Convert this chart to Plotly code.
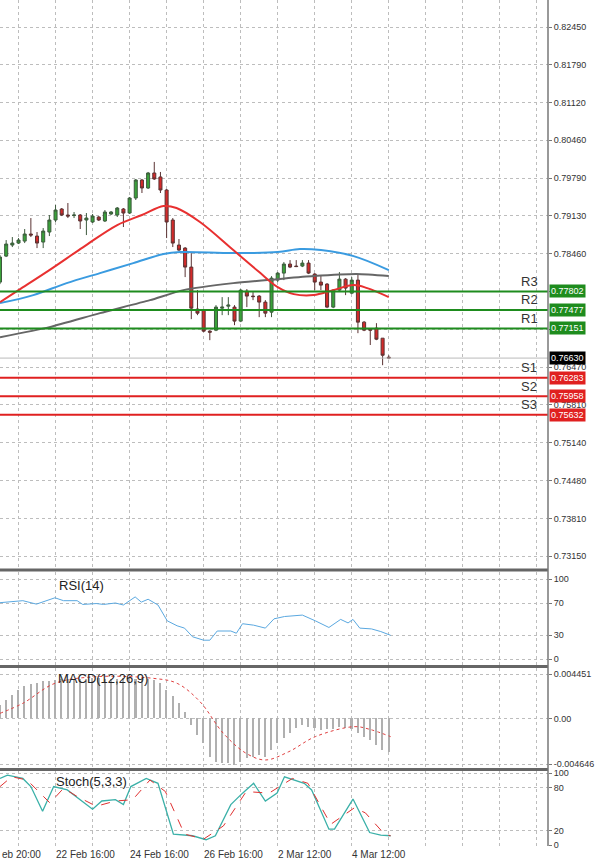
import plotly.graph_objects as go

# ---------------- data ----------------
opens  = [0.77966,0.78423,0.78617,0.78652,0.78687,0.78811,0.78775,0.78670,0.78846,0.79057,
          0.79251,0.79145,0.79136,0.79145,0.79057,0.79022,0.79110,0.79040,0.79163,0.79145,
          0.79251,0.79180,0.79444,0.79761,0.79620,0.79884,0.79814,0.79585,0.79057,0.78617,
          0.78564,0.78230,0.77491,0.77473,0.77104,0.77121,0.77508,0.77543,0.77526,0.77280,
          0.77807,0.77720,0.77720,0.77614,0.77438,0.78001,0.78124,0.78283,0.78248,0.78248,
          0.78300,0.78107,0.77966,0.77931,0.77526,0.77825,0.78018,0.77772,0.78001,0.77262,
          0.77139,0.77156,0.76980,0.76645]
highs  = [0.78441,0.78705,0.78758,0.78740,0.78899,0.79092,0.78846,0.78916,0.79145,0.79321,
          0.79268,0.79356,0.79198,0.79163,0.79180,0.79163,0.79127,0.79233,0.79215,0.79286,
          0.79268,0.79462,0.79779,0.79779,0.79902,0.80078,0.79902,0.79603,0.79092,0.78723,
          0.78582,0.78476,0.77825,0.77491,0.77121,0.77561,0.77702,0.77702,0.77561,0.77843,
          0.77843,0.77790,0.77737,0.77649,0.78071,0.78142,0.78318,0.78353,0.78353,0.78353,
          0.78353,0.78124,0.78089,0.77948,0.77843,0.78142,0.78036,0.78054,0.78107,0.77280,
          0.77156,0.77244,0.76980,0.76680]
lows   = [0.77931,0.78406,0.78582,0.78635,0.78652,0.78758,0.78564,0.78564,0.78775,0.79022,
          0.79127,0.79092,0.79092,0.78899,0.78793,0.79004,0.79040,0.79022,0.79145,0.79110,
          0.78934,0.79163,0.79409,0.79532,0.79603,0.79761,0.79532,0.78740,0.78582,0.78511,
          0.78054,0.77315,0.77385,0.77086,0.76945,0.77104,0.77385,0.77385,0.77209,0.77262,
          0.77526,0.77649,0.77350,0.77350,0.77350,0.77966,0.78001,0.78212,0.78230,0.78230,
          0.78107,0.77825,0.77825,0.77508,0.77508,0.77807,0.77737,0.77754,0.77068,0.77104,
          0.76860,0.76945,0.76505,0.76610]
closes = [0.78406,0.78635,0.78652,0.78705,0.78811,0.78793,0.78652,0.78863,0.79057,0.79233,
          0.79145,0.79127,0.79145,0.79040,0.79092,0.79127,0.79057,0.79198,0.79198,0.79268,
          0.79180,0.79444,0.79761,0.79620,0.79884,0.79779,0.79585,0.79022,0.78652,0.78529,
          0.78230,0.77508,0.77420,0.77104,0.77086,0.77526,0.77526,0.77561,0.77280,0.77825,
          0.77720,0.77711,0.77614,0.77420,0.78036,0.78124,0.78283,0.78230,0.78239,0.78300,
          0.78124,0.77966,0.77913,0.77526,0.77825,0.78018,0.77860,0.78001,0.77262,0.77121,
          0.77121,0.76962,0.76680,0.76630]

ma_red_x = [0,3,8,13.5,19,23,26.5,28.6,32.4,37.8,42,45,47.6,50.8,54,57.3,59.5,63]
ma_red_y = [0.77614,0.77825,0.78177,0.78582,0.78969,0.79145,0.79303,0.79268,0.79022,0.78529,
            0.78142,0.77878,0.77755,0.77737,0.77825,0.77913,0.77860,0.77702]
ma_blue_x = [0,5.4,10.8,16.2,21.6,26.5,29.2,37.8,45,48.6,52,57.3,63]
ma_blue_y = [0.77596,0.77737,0.77948,0.78124,0.78300,0.78459,0.78494,0.78476,0.78494,0.78547,
             0.78529,0.78423,0.78177]
ma_gray_x = [0,8,16.2,24.3,29.7,37.8,45,50.8,57.8,63]
ma_gray_y = [0.76998,0.77174,0.77420,0.77649,0.77825,0.77948,0.78018,0.78071,0.78107,0.78071]

res_names = ["R3","R2","R1"]
res_levels = [0.77802,0.77477,0.77151]
sup_names = ["S1","S2","S3"]
sup_levels = [0.76283,0.75958,0.75632]
last_price = 0.76630

price_ticks = [0.82450,0.81790,0.81120,0.80460,0.79790,0.79130,0.78460,0.77800,0.77140,
               0.76470,0.75810,0.75140,0.74480,0.73810,0.73150]
price_ticktext = ["0.82450","0.81790","0.81120","0.80460","0.79790","0.79130","0.78460","","",
                  "0.76470","0.75810","0.75140","0.74480","0.73810","0.73150"]

rsi_x = [0,3.7,5.9,8.9,10.3,12.5,13.4,15.6,16.8,18.7,20,21.9,22.9,24,25.6,27.1,28.7,29.9,31.2,
         33,34,35.2,37.4,38.3,39.3,41.1,43,44.4,46.1,49,51.1,53.3,55.2,56.4,57.2,58.3,60.2,61.7,63.3]
rsi_y = [70.4,72.9,68.6,76.5,72.9,72.9,68.2,69.3,68.2,70,67.5,77.6,71.1,74.7,67.5,47.7,41.5,38.6,
         27.8,23.5,23.5,35,35,32.2,44.1,42.3,38.6,50.2,53.1,54.9,47.7,39.4,49.5,45.1,49.5,38.6,
         37.6,34.3,29.6]

macd_hist = [0.00135,0.00185,0.00236,0.00286,0.00327,0.00347,0.00361,0.00374,0.00381,0.00388,
             0.00394,0.00396,0.00398,0.00400,0.00402,0.00404,0.00404,0.00402,0.00400,0.00402,
             0.00404,0.00404,0.00402,0.00400,0.00398,0.00388,0.00361,0.00286,0.00226,0.00152,
             0.00067,-0.00067,-0.00169,-0.00253,-0.00388,-0.00438,-0.00455,-0.00455,-0.00472,-0.00438,
             -0.00404,-0.00388,-0.00371,-0.00388,-0.00320,-0.00253,-0.00202,-0.00152,-0.00101,-0.00067,
             -0.00084,-0.00101,-0.00118,-0.00111,-0.00111,-0.00084,-0.00101,-0.00111,-0.00152,-0.00185,
             -0.00219,-0.00270,-0.00320,-0.00337]
macd_sig_x = [0,3.7,8.9,15.6,24.9,28.7,32.4,36.2,39.9,43,46.8,51.1,57.4,59.9,63.3]
macd_sig_y = [0.00051,0.00152,0.00354,0.00421,0.00404,0.00354,0.00169,-0.00152,-0.00354,-0.00421,
              -0.00337,-0.00185,-0.00084,-0.00111,-0.00185]

stk_x = [0,1.2,3.7,5,6.9,8.7,10.9,15,16.5,18.7,20,21.2,23.7,25.6,28.1,31.2,33.4,34.9,37.4,39.3,
         41.1,43,44.9,46.1,49.3,50.5,53.3,54.2,57.2,59.9,61.7,63.3]
stk_k = [92.7,97.3,92.7,81.4,47.3,81.4,76.8,50,61.4,63.2,56.4,81.4,92.7,85.9,15.5,13.2,7.7,13.2,
         56.4,72.3,85.9,61.4,72.3,95,85.9,76.8,22.3,22.3,64.1,17.7,14.1,13.2]
std_x = [0,1.9,4.4,8.1,10.3,12.5,15.6,18.7,21.5,24.3,26.8,29.9,33,36.2,39.9,43.6,47.4,49.9,53.6,
         57.4,59.2,62.3,63.3]
std_d = [81.4,95,90.5,58.6,79.1,67.7,54.1,61.4,63.2,90.5,74.5,15.5,8.6,26.8,74.5,72.3,92.7,85.9,
         29.1,51.8,45,15.5,13.2]

date_idx = [9,21,33,45,57]
date_labels = ["22 Feb 16:00","24 Feb 16:00","26 Feb 16:00","2 Mar 12:00","4 Mar 12:00"]

# ---------------- figure ----------------
idx = list(range(len(opens)))
fig = go.Figure()
fig.add_trace(go.Candlestick(x=idx, open=opens, high=highs, low=lows, close=closes,
    increasing=dict(fillcolor="#3aa23a", line=dict(color="#3d5a3d", width=1)),
    decreasing=dict(fillcolor="#d42a2a", line=dict(color="#5a3333", width=1)),
    whiskerwidth=0, xaxis="x", yaxis="y", showlegend=False))
for lv in res_levels:
    fig.add_shape(type="line", xref="paper", x0=0, x1=1, yref="y", y0=lv, y1=lv,
                  line=dict(color="#1e8c1e", width=2))
for lv in sup_levels:
    fig.add_shape(type="line", xref="paper", x0=0, x1=1, yref="y", y0=lv, y1=lv,
                  line=dict(color="#e02020", width=2))
fig.add_shape(type="line", xref="paper", x0=0, x1=1, yref="y", y0=last_price, y1=last_price,
              line=dict(color="#bbbbbb", width=1))
fig.add_trace(go.Scatter(x=ma_gray_x, y=ma_gray_y, mode="lines", line=dict(color="#666666", width=2, shape="spline", smoothing=0.6),
                         xaxis="x", yaxis="y", showlegend=False))
fig.add_trace(go.Scatter(x=ma_blue_x, y=ma_blue_y, mode="lines", line=dict(color="#3a9be0", width=2, shape="spline"),
                         xaxis="x", yaxis="y", showlegend=False))
fig.add_trace(go.Scatter(x=ma_red_x, y=ma_red_y, mode="lines", line=dict(color="#e83030", width=2, shape="spline"),
                         xaxis="x", yaxis="y", showlegend=False))

fig.add_trace(go.Scatter(x=rsi_x, y=rsi_y, mode="lines", line=dict(color="#5aa8e0", width=1),
                         xaxis="x2", yaxis="y2", showlegend=False))
fig.add_trace(go.Bar(x=idx, y=macd_hist, width=0.25, marker=dict(color="#b0b0b0", line=dict(width=0)),
                     xaxis="x3", yaxis="y3", showlegend=False))
fig.add_trace(go.Scatter(x=macd_sig_x, y=macd_sig_y, mode="lines", line=dict(color="#e04040", width=1, dash="dot", shape="spline"),
                         xaxis="x3", yaxis="y3", showlegend=False))
fig.add_trace(go.Scatter(x=stk_x, y=stk_k, mode="lines", line=dict(color="#3ab0a8", width=1.3),
                         xaxis="x4", yaxis="y4", showlegend=False))
fig.add_trace(go.Scatter(x=std_x, y=std_d, mode="lines", line=dict(color="#e03030", width=1, dash="dash"),
                         xaxis="x4", yaxis="y4", showlegend=False))

H = 846.0
def dom(top, bot):
    return [(H - bot) / H, (H - top) / H]

xr = [0, 88.8]
grid_x = dict(range=xr, showgrid=True, gridcolor="#bdbdbd", griddash="dot", gridwidth=1,
              tickmode="linear", tick0=3, dtick=6, showticklabels=False, zeroline=False,
              rangeslider=dict(visible=False), fixedrange=True, automargin=False)
yfont = dict(family="Liberation Sans, Arial", size=9, color="#333333")
ycommon = dict(side="right", tickfont=yfont, showgrid=True, gridcolor="#bdbdbd", griddash="dot",
               zeroline=False, automargin=False, ticks="outside", ticklen=3, tickcolor="#777")
fig.update_layout(
    width=600, height=866, paper_bgcolor="white", plot_bgcolor="white",
    margin=dict(l=0, r=52, t=0, b=20, autoexpand=False), bargap=0,
    xaxis=dict(grid_x, anchor="y"),
    xaxis2=dict(grid_x, anchor="y2", matches="x"),
    xaxis3=dict(grid_x, anchor="y3", matches="x"),
    xaxis4=dict(grid_x, anchor="y4", matches="x"),
    yaxis=dict(ycommon, domain=dom(0, 568), range=[0.72940, 0.82925], tickvals=price_ticks,
               ticktext=price_ticktext),
    yaxis2=dict(ycommon, domain=dom(572, 665), range=[-7.5, 108.75], tickvals=[0, 30, 70, 100]),
    yaxis3=dict(ycommon, domain=dom(668, 768), range=[-0.00502, 0.00509],
                tickvals=[0.004451, 0, -0.004646], ticktext=["0.004451", "0.00", "-0.004646"]),
    yaxis4=dict(ycommon, domain=dom(771, 846), range=[-1, 103], tickvals=[0, 20, 80, 100]),
)

# panel borders
for ypx in [570, 666.5, 769.5]:
    fig.add_shape(type="line", xref="paper", x0=0, x1=1.0, yref="paper", y0=(H - ypx) / H, y1=(H - ypx) / H,
                  line=dict(color="#666666", width=3))
fig.add_shape(type="line", xref="paper", x0=1, x1=1, yref="paper", y0=0, y1=1, line=dict(color="#777777", width=1.5))

lf = dict(family="Liberation Sans, Arial", size=9, color="white")
ann = []
for name, lv in zip(res_names + sup_names, res_levels + sup_levels):
    ann.append(dict(x=85.8, y=lv, xref="x", yref="y", text=name, showarrow=False, yshift=10,
                    font=dict(family="Liberation Sans, Arial", size=13, color="#333333")))
for lv in res_levels:
    ann.append(dict(x=1, y=lv, xref="paper", yref="y", text=f"{lv:.5f}", showarrow=False, xanchor="left",
                    xshift=1, bgcolor="#1e8c1e", borderpad=1, font=lf))
for lv in sup_levels:
    ann.append(dict(x=1, y=lv, xref="paper", yref="y", text=f"{lv:.5f}", showarrow=False, xanchor="left",
                    xshift=1, bgcolor="#e02020", borderpad=1, font=lf))
ann.append(dict(x=1, y=last_price, xref="paper", yref="y", text=f"{last_price:.5f}", showarrow=False,
                xanchor="left", xshift=1, bgcolor="#000000", borderpad=1, font=lf))
ann.append(dict(x=9.2, y=104, xref="x", yref="y2", text="RSI(14)", showarrow=False, xanchor="left", yanchor="top",
                font=dict(family="Liberation Sans, Arial", size=13, color="#222")))
ann.append(dict(x=9.0, y=0.0050, xref="x", yref="y3", text="MACD(12,26,9)", showarrow=False, xanchor="left", yanchor="top",
                font=dict(family="Liberation Sans, Arial", size=13, color="#222")))
ann.append(dict(x=8.8, y=101, xref="x", yref="y4", text="Stoch(5,3,3)", showarrow=False, xanchor="left", yanchor="top",
                font=dict(family="Liberation Sans, Arial", size=13, color="#222")))
for i, lab in zip(date_idx, date_labels):
    ann.append(dict(x=i, y=0, xref="x4", yref="paper", text=lab, showarrow=False, xanchor="left", yanchor="top",
                    xshift=-2, yshift=-1, font=dict(family="Liberation Sans, Arial", size=10, color="#333")))
ann.append(dict(x=0, y=0, xref="paper", yref="paper", text="eb 20:00", showarrow=False, xanchor="left", yanchor="top",
                yshift=-1, font=dict(family="Liberation Sans, Arial", size=10, color="#333")))
fig.update_layout(annotations=ann)

fig.write_html("out.html", config={"displayModeBar": False},
               post_script="document.body.style.margin='0';document.body.style.overflow='hidden';")
